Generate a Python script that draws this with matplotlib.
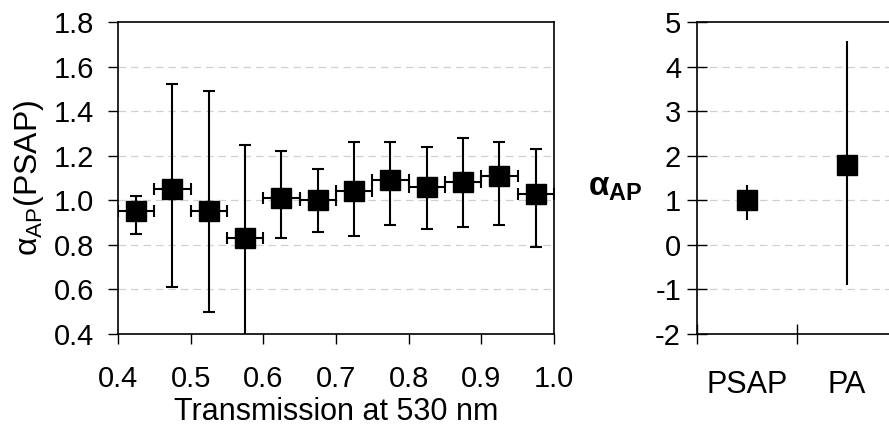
import matplotlib
matplotlib.use("Agg")
import matplotlib.pyplot as plt
import numpy as np

plt.rcParams['font.family'] = ['Liberation Sans', 'DejaVu Sans']
plt.rcParams['mathtext.fontset'] = 'custom'
plt.rcParams['mathtext.rm'] = 'Liberation Sans'
plt.rcParams['mathtext.it'] = 'Liberation Sans:italic'
plt.rcParams['mathtext.bf'] = 'Liberation Sans:bold'
plt.rcParams['axes.unicode_minus'] = False

# left panel: alpha_AP(PSAP) vs transmission
trans = [0.425, 0.475, 0.525, 0.575, 0.625, 0.675, 0.725, 0.775, 0.825, 0.875, 0.925, 0.975]
trans_half = [0.025] * 12
alpha_psap = [0.95, 1.05, 0.95, 0.83, 1.01, 1.00, 1.04, 1.09, 1.06, 1.08, 1.11, 1.03]
alpha_hi = [1.02, 1.52, 1.49, 1.25, 1.22, 1.14, 1.26, 1.26, 1.24, 1.28, 1.26, 1.23]
alpha_lo = [0.85, 0.61, 0.50, 0.39, 0.83, 0.86, 0.84, 0.89, 0.87, 0.88, 0.89, 0.79]

# right panel: instrument comparison
instr = ['PSAP', 'PA']
alpha_mean = [1.0, 1.8]
alpha_max = [1.34, 4.58]
alpha_min = [0.56, -0.9]

fig = plt.figure(figsize=(8.89, 4.29), dpi=100)
ax1 = fig.add_axes([0.1327, 0.2214, 0.4904, 0.7273])
ax2 = fig.add_axes([0.784, 0.2214, 0.225, 0.7273])

grid_kw = dict(color='#d0d0d0', linestyle=(0, (6, 4)), linewidth=0.9)

# ---- left
a = np.array(alpha_psap)
yerr = [a - np.array(alpha_lo), np.array(alpha_hi) - a]
ax1.errorbar(trans, alpha_psap, xerr=trans_half, yerr=yerr, fmt='s', color='k',
             ms=14, elinewidth=1.5, capsize=4, capthick=1.5, zorder=3)
ax1.set_xlim(0.4, 1.0)
ax1.set_ylim(0.4, 1.8)
ax1.set_xticks(np.arange(0.4, 1.01, 0.1))
ax1.set_yticks(np.arange(0.4, 1.81, 0.2))
ax1.xaxis.set_major_formatter(matplotlib.ticker.FormatStrFormatter('%.1f'))
ax1.yaxis.set_major_formatter(matplotlib.ticker.FormatStrFormatter('%.1f'))
for v in np.arange(0.6, 1.7, 0.2):
    ax1.axhline(v, zorder=0, **grid_kw)
ax1.tick_params(axis='both', direction='out', length=7, width=1, labelsize=21, colors='k')
ax1.tick_params(axis='x', pad=15)
ax1.tick_params(axis='y', pad=10)
ax1.set_xlabel('Transmission at 530 nm', fontsize=22, labelpad=3)
ax1.set_ylabel('α$_{\\mathregular{AP}}$(PSAP)', fontsize=23, labelpad=6)
for s in ax1.spines.values():
    s.set_linewidth(1.2)

# ---- right
xpos = np.arange(len(instr)) + 0.5
m = np.array(alpha_mean)
yerr2 = [m - np.array(alpha_min), np.array(alpha_max) - m]
ax2.errorbar(xpos, alpha_mean, yerr=yerr2, fmt='s', color='k', ms=15,
             elinewidth=1.5, capsize=0, zorder=3)
ax2.set_xlim(0, 2)
ax2.set_ylim(-2, 5)
ax2.set_yticks(range(-2, 6))
for v in range(-1, 5):
    ax2.axhline(v, zorder=0, **grid_kw)
ax2.set_xticks([0, 1, 2])
ax2.set_xticklabels([])
ax2.set_xticks(xpos, minor=True)
ax2.set_xticklabels(instr, minor=True)
ax2.tick_params(axis='x', which='major', direction='inout', length=14, width=1)
ax2.tick_params(axis='x', which='minor', length=0, labelsize=22, pad=26)
ax2.tick_params(axis='y', direction='inout', length=15, width=1, labelsize=21, pad=4)
ax2.set_ylabel('α$_{\\mathbf{AP}}$', fontsize=24, fontweight='bold', rotation=0,
               va='center', ha='center')
ax2.yaxis.set_label_coords(-0.41, 0.47)
for s in ax2.spines.values():
    s.set_linewidth(1.2)

fig.savefig('out.png', dpi=100)
